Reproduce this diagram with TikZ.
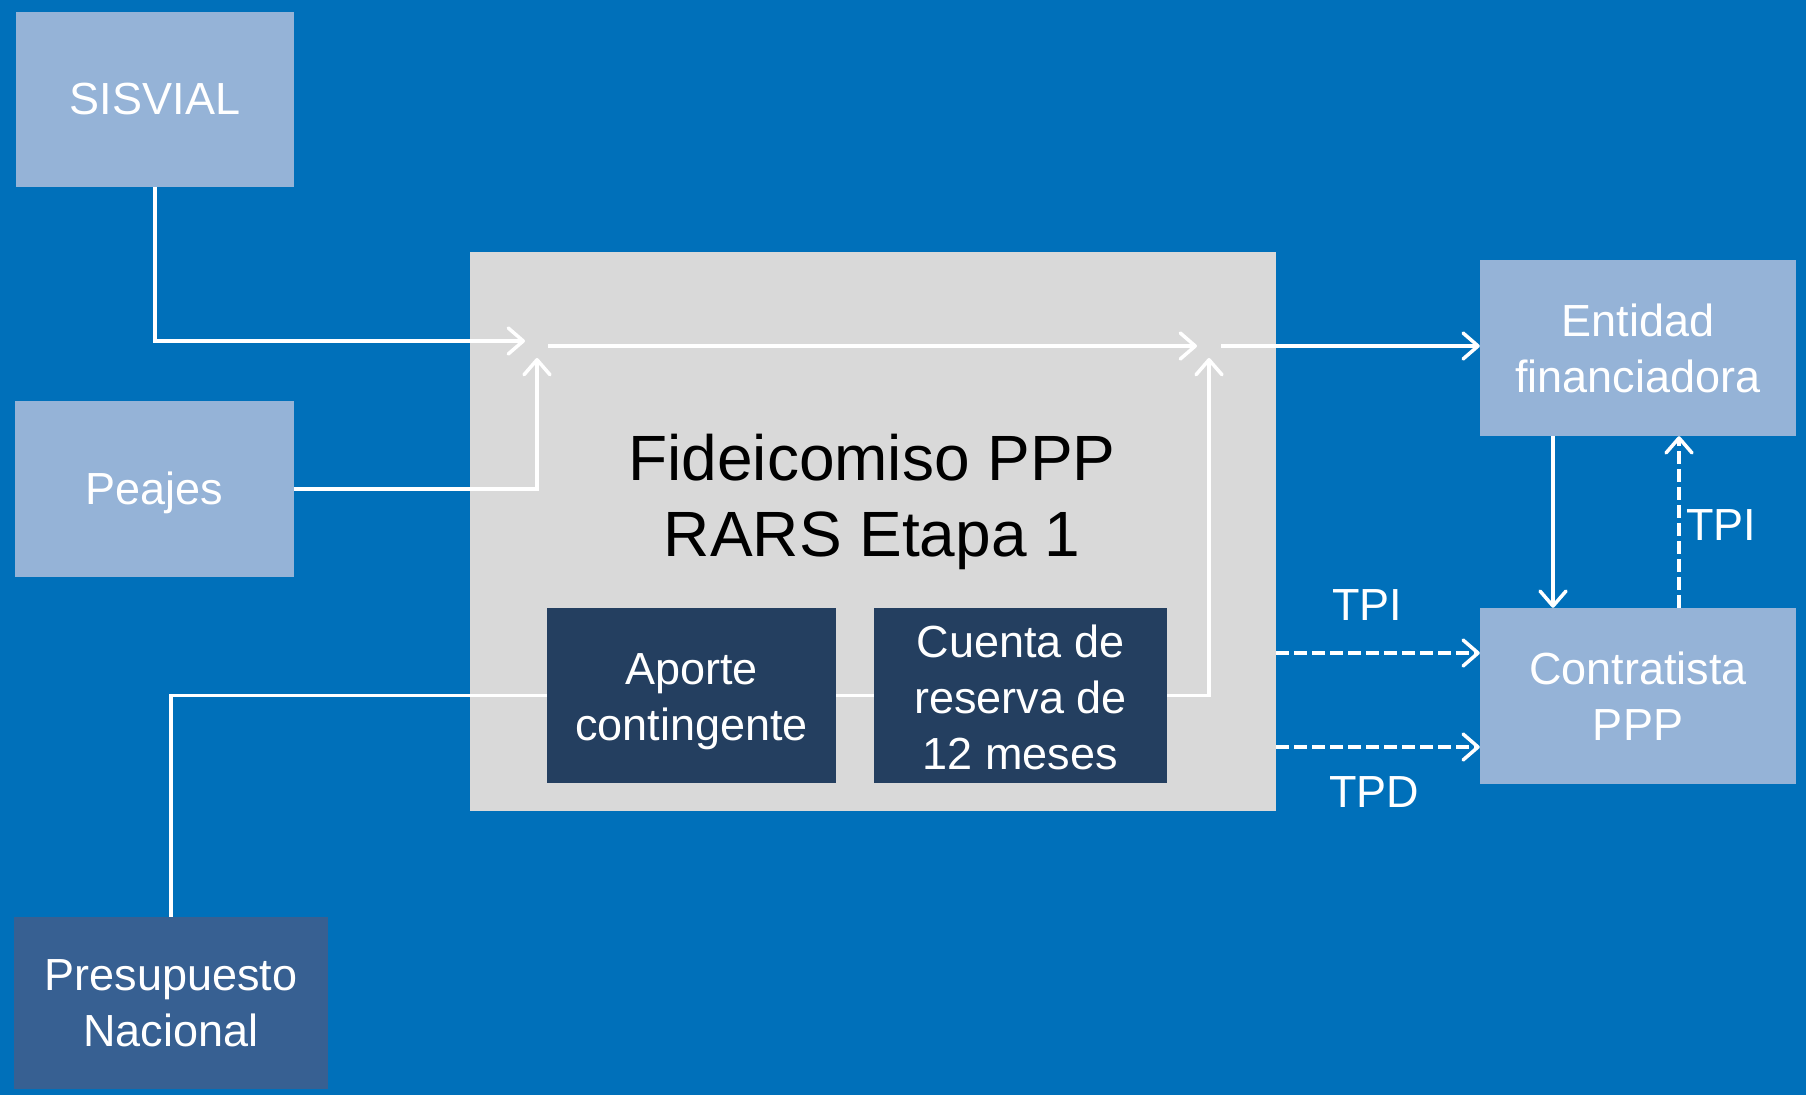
\documentclass[tikz,border=0pt]{standalone}
\usepackage{fontspec}
\setmainfont{Liberation Sans}
\usetikzlibrary{arrows.meta}
\definecolor{bgblue}{RGB}{0,112,186}
\definecolor{lightbox}{RGB}{149,179,215}
\definecolor{grayfid}{RGB}{217,217,217}
\definecolor{navybox}{RGB}{36,63,96}
\definecolor{midbox}{RGB}{55,96,146}
\tikzset{
  boxtext/.style={inner sep=0pt, align=center, text=white, font=\fontsize{45}{56}\selectfont},
  box/.style={boxtext},
  lightb/.style={box, fill=lightbox},
  navyb/.style={box, fill=navybox},
  conn/.style={draw=white, line width=3.5pt},
  arr/.style={conn, -{Straight Barb[length=15pt, width=26pt, line width=3.5pt, round]}},
  dashconn/.style={arr, dash pattern=on 13pt off 5pt},
  lbl/.style={text=white, font=\fontsize{45}{54}\selectfont, inner sep=0pt}
}
\begin{document}
\begin{tikzpicture}[x=1pt, y=-1pt]
\useasboundingbox (0,0) rectangle (1806,1095);
\fill[bgblue] (0,0) rectangle (1806,1095);

% boxes
\node[lightb, minimum width=278pt, minimum height=175pt] (sisvial) at (155,99.5) {SISVIAL};
\node[fill=lightbox, inner sep=0pt, minimum width=279pt, minimum height=176pt,
      label={[boxtext, yshift=-4pt]center:Peajes}] (peajes) at (154.5,489) {};
\node[box, fill=midbox, minimum width=314pt, minimum height=172pt] (presu) at (171,1003) {Presupuesto\\Nacional};
\node[fill=grayfid, inner sep=0pt, minimum width=806pt, minimum height=559pt] (fid) at (873,531.5) {};
\node[inner sep=0pt, align=center, font=\fontsize{64}{76}\selectfont] (title) at (872,502) {Fideicomiso PPP\\RARS Etapa 1};
\node[fill=navybox, inner sep=0pt, minimum width=289pt, minimum height=175pt,
      label={[boxtext, yshift=-6pt]center:Aporte\\contingente}] (aporte) at (691.5,695.5) {};
\node[fill=navybox, inner sep=0pt, minimum width=293pt, minimum height=175pt,
      label={[boxtext, yshift=-1.5pt]center:Cuenta de\\reserva de\\12 meses}] (cuenta) at (1020.5,695.5) {};
\node[lightb, minimum width=316pt, minimum height=176pt] (entidad) at (1638,348) {Entidad\\financiadora};
\node[lightb, minimum width=316pt, minimum height=176pt] (contr) at (1638,696) {Contratista\\PPP};

% coordinates
\coordinate (s1) at (525,341);
\coordinate (p1) at (537,358);
\coordinate (m0) at (548,346);
\coordinate (m1) at (1197,346);
\coordinate (r1) at (1209,358);
\coordinate (e0) at (1221,346);
\coordinate (ex) at (1553,0);
\coordinate (tx) at (1679,0);
\coordinate (d1) at (1276,653);
\coordinate (d2) at (1276,747);

% connectors
\draw[arr] (sisvial.south) |- (s1);
\draw[arr] (peajes.east) -| (p1);
\draw[arr] (m0) -- (m1);
\draw[arr] (cuenta.east) -| (r1);
\draw[arr] (e0) -- (e0 -| entidad.west);
\draw[conn] (presu.north) |- (aporte.west);
\draw[conn] (aporte.east) -- (cuenta.west);
\draw[arr] (entidad.south -| ex) -- (contr.north -| ex);
\draw[dashconn] (contr.north -| tx) -- (entidad.south -| tx);
\draw[dashconn] (d1) -- (d1 -| contr.west);
\draw[dashconn] (d2) -- (d2 -| contr.west);

% labels
\node[lbl] (l1) at (1367,605) {TPI};
\node[lbl] (l2) at (1374,792) {TPD};
\node[lbl, anchor=west] (l3) at (1686,525) {TPI};
\end{tikzpicture}
\end{document}
